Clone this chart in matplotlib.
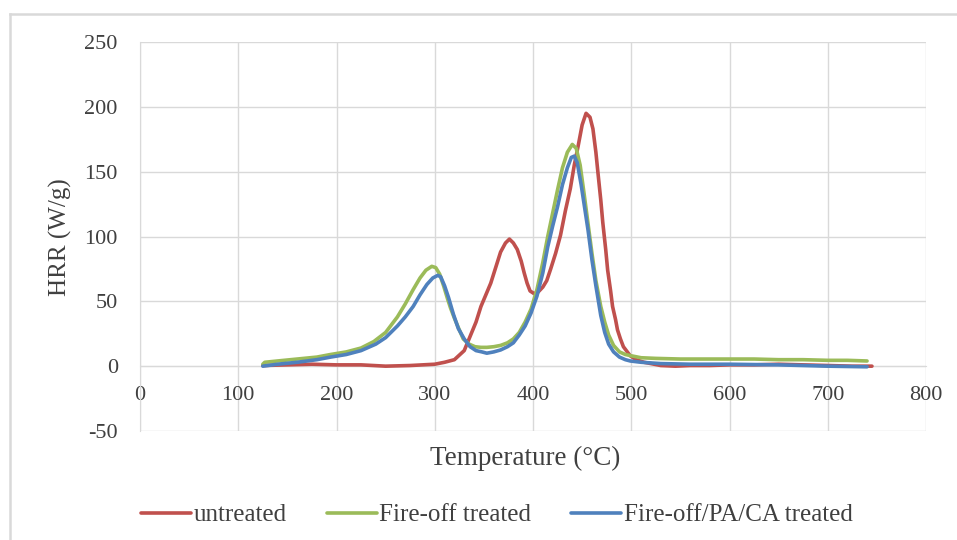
import matplotlib
matplotlib.use("Agg")
import matplotlib.pyplot as plt
from matplotlib.lines import Line2D

plt.rcParams['font.family'] = ['Liberation Serif', 'DejaVu Serif']
plt.rcParams['axes.unicode_minus'] = False

# ---- data ----
untreated_T = [125, 150, 175, 200, 225, 250, 275, 300, 310, 320, 330, 336, 342, 347, 352,
               357, 362, 367, 372, 376, 380, 384, 388, 391, 394, 397, 401, 405, 410, 414,
               418, 423, 428, 433, 438, 442, 446, 450, 454, 458, 461, 464, 466, 469, 471,
               474, 476, 479, 481, 484, 486, 489, 492, 496, 499, 505, 513, 520, 530, 545,
               560, 580, 600, 625, 650, 675, 700, 725, 745]
untreated_HRR = [0.5, 1, 1.5, 1, 1, 0, 0.5, 1.5, 3, 5, 12, 23, 34, 46, 55,
                 64, 76, 88, 95, 98, 95, 90, 81, 72, 64, 58, 56, 57, 61, 66,
                 75, 87, 101, 120, 137, 155, 170, 186, 195, 192, 183, 165, 150, 128, 111,
                 90, 74, 58, 46, 36, 28, 21, 15, 11, 8, 5, 3, 2, 0.5, 0,
                 0.5, 0.5, 1, 1, 1.5, 1, 0.5, 0, 0]

fireoff_T = [125, 127, 140, 160, 180, 194, 210, 225, 238, 250, 262, 270, 278, 285, 291,
             297, 301, 305, 309, 313, 316, 320, 325, 329, 335, 341, 347, 353, 360, 367,
             374, 380, 386, 392, 398, 404, 410, 415, 420, 425, 430, 435, 440, 444, 448,
             452, 456, 460, 464, 469, 473, 477, 482, 488, 494, 500, 510, 525, 550, 575,
             600, 625, 650, 675, 700, 720, 740]
fireoff_HRR = [1.5, 3, 4, 5.5, 7, 9, 11, 14, 19, 26, 38, 48, 59, 68, 74,
               77, 76, 71, 62, 52, 45, 37, 28, 21, 17, 15, 14.5, 14.5, 15, 16,
               18, 21, 26, 34, 44, 59, 80, 100, 118, 136, 153, 165, 171, 168, 155,
               133, 110, 87, 66, 46, 34, 24, 16, 11, 9, 8, 6.5, 6, 5.5, 5.5,
               5.5, 5.5, 5, 5, 4.5, 4.5, 4]

pacat_T = [125, 140, 160, 180, 194, 210, 225, 240, 250, 262, 270, 278, 285, 292, 298,
           303, 306, 310, 314, 319, 324, 330, 336, 342, 348, 353, 360, 367, 374, 380,
           386, 392, 398, 404, 410, 415, 420, 425, 430, 435, 439, 442, 445, 449, 452,
           456, 460, 464, 469, 473, 477, 482, 488, 494, 499, 510, 530, 560, 600, 650,
           700, 740]
pacat_HRR = [0, 1.5, 3, 5, 7, 9, 12, 17, 22, 31, 38, 46, 55, 63, 68,
             70, 69, 62, 53, 40, 29, 21, 15, 12, 11, 10, 11, 12.5, 15, 18,
             24, 31, 41, 54, 72, 92, 108, 123, 140, 153, 161, 162, 157, 140, 125,
             105, 82, 62, 39, 26, 17, 11, 7, 5, 4, 3, 2, 1.5, 1.5, 1,
             0, -0.5]

series_labels = ['untreated', 'Fire-off treated', 'Fire-off/PA/CA treated']
series_colors = ['#C0504D', '#9BBB59', '#4F81BD']
x_ticks = [0, 100, 200, 300, 400, 500, 600, 700, 800]
y_ticks = [-50, 0, 50, 100, 150, 200, 250]

W, H = 957, 540
fig = plt.figure(figsize=(W / 100, H / 100), dpi=100)
ax = fig.add_axes([140 / W, 1 - 431 / H, (926 - 140) / W, (431 - 42) / H])

grid_c = '#D9D9D9'
text_c = '#404040'

for T, Y, lab, c in zip([untreated_T, fireoff_T, pacat_T],
                        [untreated_HRR, fireoff_HRR, pacat_HRR],
                        series_labels, series_colors):
    ax.plot(T, Y, color=c, lw=2.6, label=lab, solid_capstyle='round',
            solid_joinstyle='round', zorder=3)

ax.set_xlim(0, 800)
ax.set_ylim(-50, 250)
ax.set_xticks(x_ticks)
ax.set_yticks(y_ticks)
ax.grid(True, color=grid_c, lw=1.0, zorder=0)
ax.set_axisbelow(True)

for s in ['top', 'right']:
    ax.spines[s].set_visible(False)
ax.spines['left'].set_color(grid_c)
ax.spines['bottom'].set_color(grid_c)
ax.spines['bottom'].set_position(('data', 0))

ax.tick_params(axis='both', length=0, labelsize=16, labelcolor=text_c)
ax.tick_params(axis='x', pad=14)
ax.tick_params(axis='y', pad=16)

fig.text(60 / W, 1 - 237 / H, 'HRR (W/g)', rotation=90, ha='center', va='center',
         fontsize=18, color=text_c)
fig.text(525 / W, 1 - 458 / H, 'Temperature (°C)', ha='center', va='center',
         fontsize=19.5, color=text_c)

fig.legend(loc='center', bbox_to_anchor=(497 / W, 1 - 515 / H), ncol=3,
           frameon=False, fontsize=18, handlelength=2.0, handletextpad=0.1,
           columnspacing=1.6, labelcolor=text_c)

# outer chart border (top and left edges visible)
fig.add_artist(Line2D([10 / W, 1.0], [1 - 14 / H, 1 - 14 / H], transform=fig.transFigure,
                      color='#D9D9D9', lw=1.8))
fig.add_artist(Line2D([10 / W, 10 / W], [0, 1 - 14 / H], transform=fig.transFigure,
                      color='#D9D9D9', lw=1.8))

fig.savefig('out.png', dpi=100)
